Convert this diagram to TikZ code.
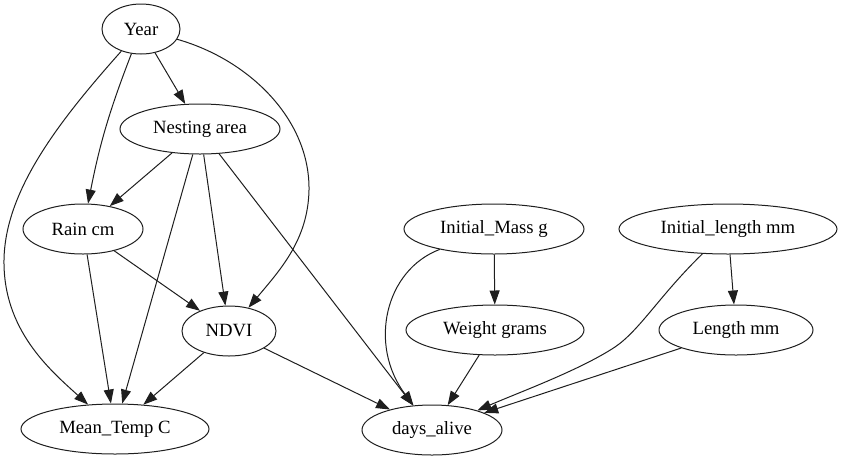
\documentclass[tikz,border=0pt]{standalone}
\usepackage{fontspec}
\setmainfont{Liberation Serif}
\usetikzlibrary{arrows.meta,shapes.geometric}
\definecolor{ink}{RGB}{30,30,30}
\tikzset{
  var/.style={ellipse,draw=ink,line width=1pt,inner sep=0pt,minimum height=50pt,
    font=\fontsize{18.7}{22}\selectfont},
  dep/.style={-{Triangle[length=14pt,width=10pt]},line width=1pt,ink},
}

\begin{document}
\begin{tikzpicture}[x=1pt,y=-1pt]
  \useasboundingbox (0,0) rectangle (841,459);
  % left cluster
  \node[var,minimum width=78pt]  (year) at (141,29)  {Year};
  \node[var,minimum width=160pt] (nest) at (200,129) {Nesting area};
  \node[var,minimum width=120pt] (rain) at (83,229)  {Rain cm};
  \node[var,minimum width=94pt]  (ndvi) at (229,331) {NDVI};
  \node[var,minimum width=188pt] (temp) at (115,429) {Mean\_Temp C};
  \node[var,minimum width=140pt] (days) at (432,430) {days\_alive};
  % right cluster
  \node[var,minimum width=180pt] (imass) at (494,229) {Initial\_Mass g};
  \node[var,minimum width=178pt] (wgt)   at (495,330) {Weight grams};
  \node[var,minimum width=218pt] (ilen)  at (728,229) {Initial\_length mm};
  \node[var,minimum width=154pt] (len)   at (736,330) {Length mm};

  \draw[dep] (year) -- (nest);
  \draw[dep] (year) to[bend right=5] (rain);
  \draw[dep] (year) .. controls (60,120) and (5,190) .. (4,260)
                    .. controls (3,330) and (50,370) .. (temp);
  \draw[dep] (year) .. controls (250,60) and (310,120) .. (309,190)
                    .. controls (308,240) and (280,270) .. (ndvi);
  \draw[dep] (nest) -- (rain);
  \draw[dep] (nest) -- (ndvi);
  \draw[dep] (nest) -- (temp);
  \draw[dep] (nest) -- (days);
  \draw[dep] (rain) -- (ndvi);
  \draw[dep] (rain) -- (temp);
  \draw[dep] (ndvi) -- (temp);
  \draw[dep] (ndvi) -- (days);
  \draw[dep] (imass) -- (wgt);
  \draw[dep] (imass) .. controls (385,270) and (368,345) .. (days);
  \draw[dep] (wgt) -- (days);
  \draw[dep] (ilen) -- (len);
  \draw[dep] (ilen) .. controls (660,295) and (640,330) .. (615,347)
                    .. controls (580,370) and (520,392) .. (days);
  \draw[dep] (len) -- (days);
\end{tikzpicture}
\end{document}
